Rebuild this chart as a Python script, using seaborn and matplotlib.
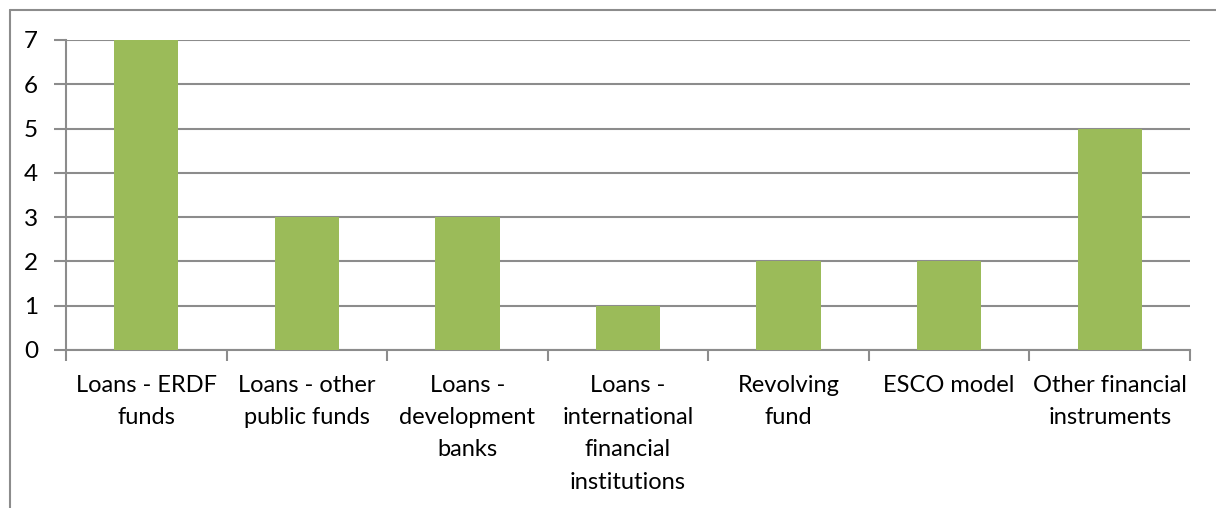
import matplotlib
matplotlib.use("Agg")
import matplotlib.pyplot as plt
from matplotlib.lines import Line2D
import seaborn as sns
import numpy as np
import pandas as pd

categories = [
    "Loans - ERDF\nfunds",
    "Loans - other\npublic funds",
    "Loans -\ndevelopment\nbanks",
    "Loans -\ninternational\nfinancial\ninstitutions",
    "Revolving\nfund",
    "ESCO model",
    "Other financial\ninstruments",
]
counts = [7, 3, 3, 1, 2, 2, 5]
y_ticks = [0, 1, 2, 3, 4, 5, 6, 7]

sns.set_style("white")
plt.rcParams["font.family"] = ["Lato", "DejaVu Sans"]

grid_color = "#8c8c8c"
bar_color = "#9bbb59"

fig = plt.figure(figsize=(12.16, 5.08), dpi=100)
ax = fig.add_axes([66 / 1216, 1 - 350 / 508, (1190 - 66) / 1216, (350 - 40) / 508])

df = pd.DataFrame({"category": categories, "count": counts})
sns.barplot(data=df, x="category", y="count", color=bar_color, width=0.4,
            saturation=1, linewidth=0, edgecolor=bar_color, ax=ax, zorder=3)

ax.set_xlim(-0.5, len(categories) - 0.5)
ax.set_ylim(0, 7)
ax.set_yticks(y_ticks)
ax.set_yticklabels([str(v) for v in y_ticks], fontsize=17.5, color="#000000")
ax.yaxis.grid(True, color=grid_color, linewidth=1.5, zorder=0)
ax.set_axisbelow(True)

# category labels at centers, tick marks at boundaries
ax.set_xticks(range(len(categories)))
ax.set_xticklabels(categories, fontsize=17, linespacing=1.66, color="#000000")
ax.tick_params(axis="x", which="major", length=0, pad=18)
ax.set_xticks(np.arange(-0.5, len(categories)), minor=True)
ax.tick_params(axis="x", which="minor", length=8, width=1.5, color=grid_color,
               direction="out", bottom=True)
ax.tick_params(axis="y", which="major", length=9, width=1.5, color=grid_color,
               direction="out", left=True, pad=11)

ax.set_xlabel("")
ax.set_ylabel("")
for side in ["top", "right"]:
    ax.spines[side].set_visible(False)
for side in ["left", "bottom"]:
    ax.spines[side].set_color(grid_color)
    ax.spines[side].set_linewidth(1.5)

# chart area frame (top and left edges)
fig.add_artist(Line2D([10 / 1216, 10 / 1216], [0, 1 - 10 / 508],
                      transform=fig.transFigure, color="#8c8c8c", linewidth=1.5))
fig.add_artist(Line2D([10 / 1216, 1], [1 - 10 / 508, 1 - 10 / 508],
                      transform=fig.transFigure, color="#8c8c8c", linewidth=1.5))

fig.savefig("out.png", dpi=100)
